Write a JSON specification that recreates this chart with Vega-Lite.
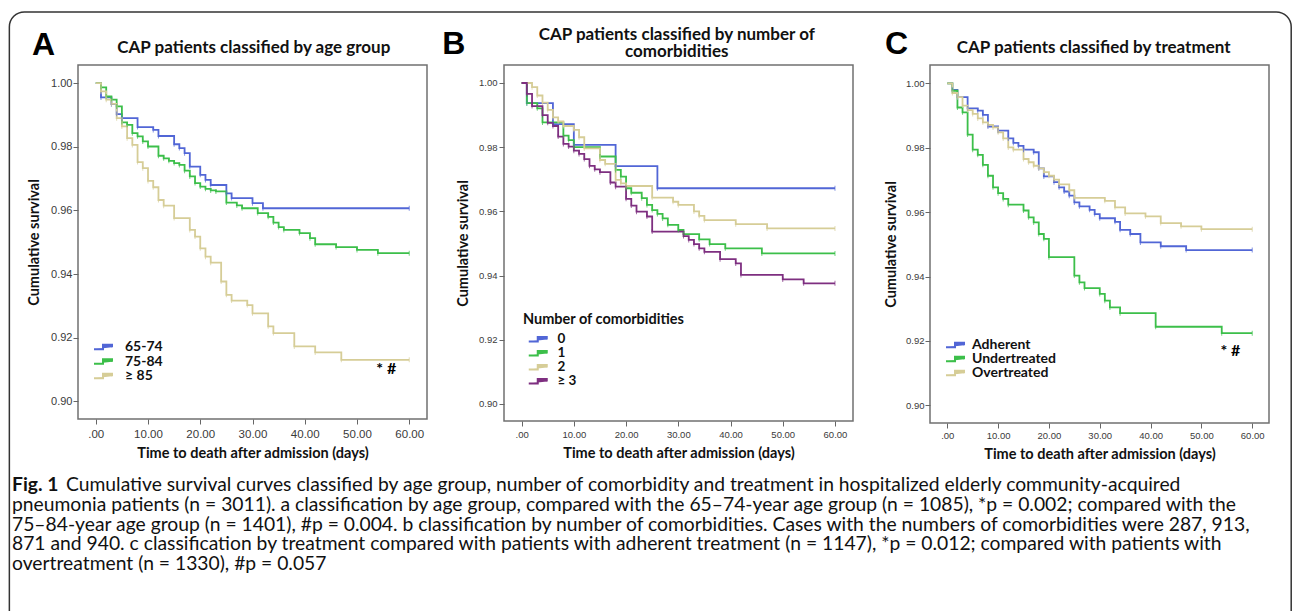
{
  "$schema": "https://vega.github.io/schema/vega-lite/v6.json",
  "padding": {"left": 8, "top": 11, "right": 0, "bottom": 0},
  "background": "white",
  "config": {
    "view": {"stroke": "#707070", "strokeWidth": 1.5},
    "axis": {"domain": false, "grid": false, "labelFont": "Liberation Sans", "labelColor": "#3a3a3a", "tickColor": "#666", "tickSize": 5, "titleFont": "Lato", "titleFontWeight": "bold", "titleColor": "#111", "titleFontSize": 14.5},
    "legend": {"labelFont": "Lato", "labelFontWeight": "bold", "labelFontSize": 14, "labelColor": "#111", "titleFont": "Lato", "titleFontWeight": "bold", "titleFontSize": 14.5, "titleColor": "#111", "padding": 0, "symbolType": "M-1,0.43H0.8V-0.43H2.6V0.03", "symbolSize": 100, "symbolStrokeWidth": 2, "symbolFillColor": "transparent"}
  },
  "vconcat": [
    {
      "hconcat": [
        {
          "width": 349, "height": 354,
          "data": {"values": [
            {"g":"65-74","t":0,"s":1.0},{"g":"65-74","t":1,"s":0.9955},{"g":"65-74","t":3,"s":0.9934},{"g":"65-74","t":4,"s":0.9903},{"g":"65-74","t":5,"s":0.989},{"g":"65-74","t":8,"s":0.9862},{"g":"65-74","t":11,"s":0.9853},{"g":"65-74","t":12,"s":0.9834},{"g":"65-74","t":15,"s":0.9808},{"g":"65-74","t":16,"s":0.9796},{"g":"65-74","t":17,"s":0.978},{"g":"65-74","t":18,"s":0.9738},{"g":"65-74","t":20,"s":0.9712},{"g":"65-74","t":21,"s":0.9696},{"g":"65-74","t":22,"s":0.968},{"g":"65-74","t":25,"s":0.9654},{"g":"65-74","t":26,"s":0.9639},{"g":"65-74","t":30,"s":0.9623},{"g":"65-74","t":32,"s":0.9607},{"g":"65-74","t":60,"s":0.9607},
            {"g":"75-84","t":0,"s":1.0},{"g":"75-84","t":1,"s":0.9987},{"g":"75-84","t":2,"s":0.9958},{"g":"75-84","t":3,"s":0.9948},{"g":"75-84","t":4,"s":0.9927},{"g":"75-84","t":5,"s":0.9877},{"g":"75-84","t":6,"s":0.9869},{"g":"75-84","t":7,"s":0.9843},{"g":"75-84","t":8,"s":0.9833},{"g":"75-84","t":9,"s":0.9817},{"g":"75-84","t":10,"s":0.9801},{"g":"75-84","t":12,"s":0.9772},{"g":"75-84","t":13,"s":0.9764},{"g":"75-84","t":14,"s":0.9756},{"g":"75-84","t":15,"s":0.9749},{"g":"75-84","t":16,"s":0.9743},{"g":"75-84","t":17,"s":0.9725},{"g":"75-84","t":18,"s":0.9707},{"g":"75-84","t":19,"s":0.9686},{"g":"75-84","t":20,"s":0.9675},{"g":"75-84","t":21,"s":0.9668},{"g":"75-84","t":22,"s":0.9663},{"g":"75-84","t":23,"s":0.966},{"g":"75-84","t":25,"s":0.9625},{"g":"75-84","t":27,"s":0.9616},{"g":"75-84","t":28,"s":0.9607},{"g":"75-84","t":31,"s":0.9592},{"g":"75-84","t":33,"s":0.958},{"g":"75-84","t":34,"s":0.9562},{"g":"75-84","t":35,"s":0.9548},{"g":"75-84","t":36,"s":0.9539},{"g":"75-84","t":39,"s":0.9529},{"g":"75-84","t":41,"s":0.9513},{"g":"75-84","t":42,"s":0.9494},{"g":"75-84","t":46,"s":0.9485},{"g":"75-84","t":50,"s":0.9476},{"g":"75-84","t":54,"s":0.9466},{"g":"75-84","t":60,"s":0.9466},
            {"g":"≥ 85","t":0,"s":1.0},{"g":"≥ 85","t":1,"s":0.9974},{"g":"≥ 85","t":2,"s":0.9948},{"g":"≥ 85","t":3,"s":0.9935},{"g":"≥ 85","t":4,"s":0.989},{"g":"≥ 85","t":5,"s":0.9864},{"g":"≥ 85","t":6,"s":0.9827},{"g":"≥ 85","t":7,"s":0.9806},{"g":"≥ 85","t":8,"s":0.9752},{"g":"≥ 85","t":9,"s":0.9733},{"g":"≥ 85","t":10,"s":0.9693},{"g":"≥ 85","t":11,"s":0.9673},{"g":"≥ 85","t":12,"s":0.9633},{"g":"≥ 85","t":13,"s":0.9615},{"g":"≥ 85","t":15,"s":0.9576},{"g":"≥ 85","t":18,"s":0.9539},{"g":"≥ 85","t":19,"s":0.9518},{"g":"≥ 85","t":20,"s":0.9481},{"g":"≥ 85","t":21,"s":0.9455},{"g":"≥ 85","t":22,"s":0.9436},{"g":"≥ 85","t":24,"s":0.9377},{"g":"≥ 85","t":25,"s":0.9335},{"g":"≥ 85","t":26,"s":0.9317},{"g":"≥ 85","t":29,"s":0.9303},{"g":"≥ 85","t":30,"s":0.9277},{"g":"≥ 85","t":33,"s":0.9236},{"g":"≥ 85","t":34,"s":0.9215},{"g":"≥ 85","t":38,"s":0.9173},{"g":"≥ 85","t":42,"s":0.9154},{"g":"≥ 85","t":47,"s":0.9131},{"g":"≥ 85","t":60,"s":0.9131}
          ]},
          "layer": [
            {
              "mark": {"type": "line", "interpolate": "step-after", "strokeWidth": 1.8},
              "encoding": {
                "x": {"field": "t", "type": "quantitative", "scale": {"domain": [-3.4, 63.4], "nice": false, "zero": false},
                      "axis": {"title": "Time to death after admission (days)", "values": [0,10,20,30,40,50,60], "labelExpr": "datum.value == 0 ? '.00' : format(datum.value, '.2f')", "labelFontSize": 11.5, "labelPadding": 4, "titlePadding": 7}},
                "y": {"field": "s", "type": "quantitative", "scale": {"domain": [0.8945, 1.0057], "nice": false, "zero": false},
                      "axis": {"title": "Cumulative survival", "values": [0.9,0.92,0.94,0.96,0.98,1.0], "format": ".2f", "labelFontSize": 11, "labelPadding": 1, "titlePadding": 9}},
                "color": {"field": "g", "type": "nominal", "scale": {"domain": ["65-74","75-84","≥ 85"], "range": ["#5166d6","#3cbf4a","#d6cd97"]},
                          "legend": {"title": null, "orient": "none", "legendX": 14, "legendY": 275, "labelOffset": 19, "rowPadding": 0.5}}
              }
            },
            {
              "transform": [{"filter": "datum.t > 0"}],
              "mark": {"type": "tick", "orient": "vertical", "size": 5, "thickness": 1},
              "encoding": {
                "x": {"field": "t", "type": "quantitative"},
                "y": {"field": "s", "type": "quantitative"},
                "color": {"field": "g", "type": "nominal", "legend": null}
              }
            },
            {
              "data": {"values": [{}]},
              "mark": {"type": "text", "text": "A", "font": "Liberation Sans", "fontSize": 32, "fontWeight": "bold", "align": "left", "baseline": "alphabetic", "color": "#000"},
              "encoding": {"x": {"datum": -12.2}, "y": {"datum": 1.0088}}
            },
            {
              "data": {"values": [{}]},
              "mark": {"type": "text", "text": "CAP patients classified by age group", "font": "Lato", "fontSize": 17, "fontWeight": "bold", "align": "center", "baseline": "middle", "color": "#111"},
              "encoding": {"x": {"datum": 30.25}, "y": {"datum": 1.011}}
            },
            {
              "data": {"values": [{}]},
              "mark": {"type": "text", "text": "*  #", "font": "Lato", "fontSize": 16, "fontWeight": "bold", "align": "center", "baseline": "middle", "color": "#000"},
              "encoding": {"x": {"datum": 55.6}, "y": {"datum": 0.9102}}
            }
          ]
        },
        {
          "width": 349, "height": 356,
          "data": {"values": [
            {"g":"0","t":0,"s":1.0},{"g":"0","t":1,"s":0.9937},{"g":"0","t":6,"s":0.9872},{"g":"0","t":10,"s":0.9807},{"g":"0","t":18,"s":0.9741},{"g":"0","t":26,"s":0.9672},{"g":"0","t":60,"s":0.9672},
            {"g":"1","t":0,"s":1.0},{"g":"1","t":1,"s":0.9937},{"g":"1","t":3,"s":0.9921},{"g":"1","t":4,"s":0.9877},{"g":"1","t":8,"s":0.9836},{"g":"1","t":9,"s":0.9822},{"g":"1","t":10,"s":0.98},{"g":"1","t":15,"s":0.9771},{"g":"1","t":18,"s":0.9729},{"g":"1","t":19,"s":0.9708},{"g":"1","t":20,"s":0.9672},{"g":"1","t":21,"s":0.9658},{"g":"1","t":23,"s":0.9641},{"g":"1","t":24,"s":0.962},{"g":"1","t":25,"s":0.9604},{"g":"1","t":26,"s":0.9592},{"g":"1","t":27,"s":0.9578},{"g":"1","t":28,"s":0.9558},{"g":"1","t":30,"s":0.9542},{"g":"1","t":31,"s":0.9529},{"g":"1","t":34,"s":0.9513},{"g":"1","t":36,"s":0.9498},{"g":"1","t":39,"s":0.9485},{"g":"1","t":46,"s":0.9469},{"g":"1","t":60,"s":0.9469},
            {"g":"2","t":0,"s":1.0},{"g":"2","t":2,"s":0.9987},{"g":"2","t":3,"s":0.9961},{"g":"2","t":4,"s":0.9939},{"g":"2","t":5,"s":0.9916},{"g":"2","t":6,"s":0.9893},{"g":"2","t":7,"s":0.988},{"g":"2","t":8,"s":0.9866},{"g":"2","t":10,"s":0.9854},{"g":"2","t":11,"s":0.9831},{"g":"2","t":12,"s":0.9796},{"g":"2","t":15,"s":0.976},{"g":"2","t":16,"s":0.9748},{"g":"2","t":18,"s":0.9698},{"g":"2","t":19,"s":0.9687},{"g":"2","t":20,"s":0.9679},{"g":"2","t":25,"s":0.9643},{"g":"2","t":29,"s":0.963},{"g":"2","t":30,"s":0.962},{"g":"2","t":33,"s":0.96},{"g":"2","t":34,"s":0.9586},{"g":"2","t":35,"s":0.9573},{"g":"2","t":41,"s":0.956},{"g":"2","t":47,"s":0.9547},{"g":"2","t":60,"s":0.9547},
            {"g":"≥ 3","t":0,"s":1.0},{"g":"≥ 3","t":1,"s":0.9966},{"g":"≥ 3","t":2,"s":0.9928},{"g":"≥ 3","t":4,"s":0.99},{"g":"≥ 3","t":5,"s":0.9876},{"g":"≥ 3","t":6,"s":0.9866},{"g":"≥ 3","t":7,"s":0.9833},{"g":"≥ 3","t":8,"s":0.981},{"g":"≥ 3","t":9,"s":0.9802},{"g":"≥ 3","t":10,"s":0.9789},{"g":"≥ 3","t":11,"s":0.9779},{"g":"≥ 3","t":12,"s":0.9763},{"g":"≥ 3","t":13,"s":0.9742},{"g":"≥ 3","t":14,"s":0.9731},{"g":"≥ 3","t":15,"s":0.9722},{"g":"≥ 3","t":17,"s":0.969},{"g":"≥ 3","t":18,"s":0.9677},{"g":"≥ 3","t":20,"s":0.9639},{"g":"≥ 3","t":21,"s":0.9618},{"g":"≥ 3","t":22,"s":0.9599},{"g":"≥ 3","t":24,"s":0.9584},{"g":"≥ 3","t":25,"s":0.9537},{"g":"≥ 3","t":31,"s":0.9523},{"g":"≥ 3","t":32,"s":0.9511},{"g":"≥ 3","t":33,"s":0.9498},{"g":"≥ 3","t":34,"s":0.9485},{"g":"≥ 3","t":35,"s":0.9474},{"g":"≥ 3","t":38,"s":0.9451},{"g":"≥ 3","t":41,"s":0.9438},{"g":"≥ 3","t":42,"s":0.9402},{"g":"≥ 3","t":50,"s":0.9388},{"g":"≥ 3","t":54,"s":0.9376},{"g":"≥ 3","t":60,"s":0.9376}
          ]},
          "layer": [
            {
              "mark": {"type": "line", "interpolate": "step-after", "strokeWidth": 1.8},
              "encoding": {
                "x": {"field": "t", "type": "quantitative", "scale": {"domain": [-3.37, 63.45], "nice": false, "zero": false},
                      "axis": {"title": "Time to death after admission (days)", "values": [0,10,20,30,40,50,60], "labelExpr": "datum.value == 0 ? '.00' : format(datum.value, '.2f')", "labelFontSize": 9.5, "labelPadding": 3, "titlePadding": 8}},
                "y": {"field": "s", "type": "quantitative", "scale": {"domain": [0.8947, 1.0056], "nice": false, "zero": false},
                      "axis": {"title": "Cumulative survival", "values": [0.9,0.92,0.94,0.96,0.98,1.0], "format": ".2f", "labelFontSize": 9.5, "labelPadding": 2, "titlePadding": 8}},
                "color": {"field": "g", "type": "nominal", "scale": {"domain": ["0","1","2","≥ 3"], "range": ["#5166d6","#3cbf4a","#d6cd97","#7e2f80"]},
                          "legend": {"title": "Number of comorbidities", "orient": "none", "legendX": 19, "legendY": 248, "symbolOffset": 4, "labelOffset": 17, "labelFontSize": 13.5, "rowPadding": -2, "titlePadding": 5}}
              }
            },
            {
              "transform": [{"filter": "datum.t > 0"}],
              "mark": {"type": "tick", "orient": "vertical", "size": 5, "thickness": 1},
              "encoding": {
                "x": {"field": "t", "type": "quantitative"},
                "y": {"field": "s", "type": "quantitative"},
                "color": {"field": "g", "type": "nominal", "legend": null}
              }
            },
            {
              "data": {"values": [{}]},
              "mark": {"type": "text", "text": "B", "font": "Liberation Sans", "fontSize": 32, "fontWeight": "bold", "align": "left", "baseline": "alphabetic", "color": "#000"},
              "encoding": {"x": {"datum": -15.2}, "y": {"datum": 1.009}}
            },
            {
              "data": {"values": [{}]},
              "mark": {"type": "text", "text": "CAP patients classified by number of", "font": "Lato", "fontSize": 17, "fontWeight": "bold", "align": "center", "baseline": "middle", "color": "#111"},
              "encoding": {"x": {"datum": 29.7}, "y": {"datum": 1.0149}}
            },
            {
              "data": {"values": [{}]},
              "mark": {"type": "text", "text": "comorbidities", "font": "Lato", "fontSize": 17, "fontWeight": "bold", "align": "center", "baseline": "middle", "color": "#111"},
              "encoding": {"x": {"datum": 29.7}, "y": {"datum": 1.0096}}
            }
          ]
        },
        {
          "width": 339, "height": 358,
          "data": {"values": [
            {"g":"Adherent","t":0,"s":1.0},{"g":"Adherent","t":1,"s":0.998},{"g":"Adherent","t":2,"s":0.9957},{"g":"Adherent","t":4,"s":0.9922},{"g":"Adherent","t":6,"s":0.9915},{"g":"Adherent","t":7,"s":0.9902},{"g":"Adherent","t":8,"s":0.9866},{"g":"Adherent","t":10,"s":0.9853},{"g":"Adherent","t":12,"s":0.9829},{"g":"Adherent","t":13,"s":0.9815},{"g":"Adherent","t":14,"s":0.9806},{"g":"Adherent","t":15,"s":0.9794},{"g":"Adherent","t":17,"s":0.9786},{"g":"Adherent","t":18,"s":0.9736},{"g":"Adherent","t":19,"s":0.9711},{"g":"Adherent","t":21,"s":0.9693},{"g":"Adherent","t":22,"s":0.9677},{"g":"Adherent","t":23,"s":0.9664},{"g":"Adherent","t":24,"s":0.9651},{"g":"Adherent","t":25,"s":0.963},{"g":"Adherent","t":26,"s":0.9618},{"g":"Adherent","t":28,"s":0.9607},{"g":"Adherent","t":29,"s":0.9594},{"g":"Adherent","t":30,"s":0.9581},{"g":"Adherent","t":33,"s":0.957},{"g":"Adherent","t":34,"s":0.9545},{"g":"Adherent","t":36,"s":0.9532},{"g":"Adherent","t":38,"s":0.9506},{"g":"Adherent","t":42,"s":0.9494},{"g":"Adherent","t":47,"s":0.9482},{"g":"Adherent","t":60,"s":0.9482},
            {"g":"Undertreated","t":0,"s":1.0},{"g":"Undertreated","t":1,"s":0.9977},{"g":"Undertreated","t":2,"s":0.9925},{"g":"Undertreated","t":3,"s":0.991},{"g":"Undertreated","t":4,"s":0.9841},{"g":"Undertreated","t":5,"s":0.9794},{"g":"Undertreated","t":6,"s":0.9778},{"g":"Undertreated","t":7,"s":0.9747},{"g":"Undertreated","t":8,"s":0.9713},{"g":"Undertreated","t":9,"s":0.9677},{"g":"Undertreated","t":10,"s":0.9659},{"g":"Undertreated","t":11,"s":0.9641},{"g":"Undertreated","t":12,"s":0.9623},{"g":"Undertreated","t":15,"s":0.9605},{"g":"Undertreated","t":16,"s":0.9584},{"g":"Undertreated","t":17,"s":0.9568},{"g":"Undertreated","t":18,"s":0.9532},{"g":"Undertreated","t":19,"s":0.9517},{"g":"Undertreated","t":20,"s":0.946},{"g":"Undertreated","t":25,"s":0.9403},{"g":"Undertreated","t":26,"s":0.9382},{"g":"Undertreated","t":27,"s":0.9364},{"g":"Undertreated","t":30,"s":0.9346},{"g":"Undertreated","t":31,"s":0.9325},{"g":"Undertreated","t":32,"s":0.9304},{"g":"Undertreated","t":34,"s":0.9286},{"g":"Undertreated","t":41,"s":0.9244},{"g":"Undertreated","t":54,"s":0.9224},{"g":"Undertreated","t":60,"s":0.9224},
            {"g":"Overtreated","t":0,"s":1.0},{"g":"Overtreated","t":1,"s":0.997},{"g":"Overtreated","t":2,"s":0.9957},{"g":"Overtreated","t":3,"s":0.9931},{"g":"Overtreated","t":4,"s":0.9917},{"g":"Overtreated","t":5,"s":0.9905},{"g":"Overtreated","t":6,"s":0.9891},{"g":"Overtreated","t":7,"s":0.9879},{"g":"Overtreated","t":8,"s":0.9871},{"g":"Overtreated","t":9,"s":0.9863},{"g":"Overtreated","t":10,"s":0.9848},{"g":"Overtreated","t":11,"s":0.9829},{"g":"Overtreated","t":12,"s":0.9801},{"g":"Overtreated","t":13,"s":0.9794},{"g":"Overtreated","t":15,"s":0.9765},{"g":"Overtreated","t":16,"s":0.9755},{"g":"Overtreated","t":17,"s":0.9744},{"g":"Overtreated","t":18,"s":0.9736},{"g":"Overtreated","t":19,"s":0.9724},{"g":"Overtreated","t":20,"s":0.9713},{"g":"Overtreated","t":21,"s":0.9701},{"g":"Overtreated","t":22,"s":0.9686},{"g":"Overtreated","t":24,"s":0.9668},{"g":"Overtreated","t":25,"s":0.9644},{"g":"Overtreated","t":31,"s":0.9635},{"g":"Overtreated","t":33,"s":0.9615},{"g":"Overtreated","t":35,"s":0.9596},{"g":"Overtreated","t":39,"s":0.9587},{"g":"Overtreated","t":42,"s":0.9566},{"g":"Overtreated","t":46,"s":0.9556},{"g":"Overtreated","t":50,"s":0.9547},{"g":"Overtreated","t":60,"s":0.9547}
          ]},
          "layer": [
            {
              "mark": {"type": "line", "interpolate": "step-after", "strokeWidth": 1.8},
              "encoding": {
                "x": {"field": "t", "type": "quantitative", "scale": {"domain": [-3.4, 63.3], "nice": false, "zero": false},
                      "axis": {"title": "Time to death after admission (days)", "values": [0,10,20,30,40,50,60], "labelExpr": "datum.value == 0 ? '.00' : format(datum.value, '.2f')", "labelFontSize": 9.5, "labelPadding": 2, "titlePadding": 8}},
                "y": {"field": "s", "type": "quantitative", "scale": {"domain": [0.8945, 1.0057], "nice": false, "zero": false},
                      "axis": {"title": "Cumulative survival", "values": [0.9,0.92,0.94,0.96,0.98,1.0], "format": ".2f", "labelFontSize": 9.5, "labelPadding": 1, "titlePadding": 7}},
                "color": {"field": "g", "type": "nominal", "scale": {"domain": ["Adherent","Undertreated","Overtreated"], "range": ["#5166d6","#3cbf4a","#d6cd97"]},
                          "legend": {"title": null, "orient": "none", "legendX": 14, "legendY": 273, "labelOffset": 14, "rowPadding": 0}}
              }
            },
            {
              "transform": [{"filter": "datum.t > 0"}],
              "mark": {"type": "tick", "orient": "vertical", "size": 5, "thickness": 1},
              "encoding": {
                "x": {"field": "t", "type": "quantitative"},
                "y": {"field": "s", "type": "quantitative"},
                "color": {"field": "g", "type": "nominal", "legend": null}
              }
            },
            {
              "data": {"values": [{}]},
              "mark": {"type": "text", "text": "C", "font": "Liberation Sans", "fontSize": 32, "fontWeight": "bold", "align": "left", "baseline": "alphabetic", "color": "#000"},
              "encoding": {"x": {"datum": -12.25}, "y": {"datum": 1.0091}}
            },
            {
              "data": {"values": [{}]},
              "mark": {"type": "text", "text": "CAP patients classified by treatment", "font": "Lato", "fontSize": 17, "fontWeight": "bold", "align": "center", "baseline": "middle", "color": "#111"},
              "encoding": {"x": {"datum": 28.8}, "y": {"datum": 1.011}}
            },
            {
              "data": {"values": [{}]},
              "mark": {"type": "text", "text": "*  #", "font": "Lato", "fontSize": 16, "fontWeight": "bold", "align": "center", "baseline": "middle", "color": "#000"},
              "encoding": {"x": {"datum": 55.7}, "y": {"datum": 0.9169}}
            }
          ]
        }
      ],
      "spacing": 77,
      "bounds": "flush",
      "resolve": {"scale": {"color": "independent"}, "legend": {"color": "independent"}}
    },
    {
      "width": 1200, "height": 99,
      "view": {"stroke": null},
      "layer": [
        {
          "data": {"values": [{}]},
          "mark": {"type": "rect", "filled": false, "stroke": "#333", "strokeWidth": 1.5, "cornerRadius": 15},
          "encoding": {
            "x": {"datum": -5.72, "type": "quantitative", "scale": {"domain": [0, 100], "nice": false, "zero": false}, "axis": null},
            "x2": {"datum": 101.1},
            "y": {"datum": -22.89, "type": "quantitative", "scale": {"domain": [0.5, 5.5], "nice": false, "zero": false, "reverse": true}, "axis": null},
            "y2": {"datum": 12}
          }
        },
        {
          "data": {"values": [
            {"line": 1, "seg": "head", "text": "Fig. 1"},
            {"line": 1, "seg": "rest", "text": "Cumulative survival curves classified by age group, number of comorbidity and treatment in hospitalized elderly community-acquired"},
            {"line": 2, "seg": "body", "text": "pneumonia patients (n = 3011). a classification by age group, compared with the 65–74-year age group (n = 1085), *p = 0.002; compared with the"},
            {"line": 3, "seg": "body", "text": "75–84-year age group (n = 1401), #p = 0.004. b classification by number of comorbidities. Cases with the numbers of comorbidities were 287, 913,"},
            {"line": 4, "seg": "body", "text": "871 and 940. c classification by treatment compared with patients with adherent treatment (n = 1147), *p = 0.012; compared with patients with"},
            {"line": 5, "seg": "body", "text": "overtreatment (n = 1330), #p = 0.057"}
          ]},
          "encoding": {
            "x": {"datum": -5.5, "type": "quantitative"},
            "y": {"field": "line", "type": "quantitative"},
            "text": {"field": "text"}
          },
          "layer": [
            {"transform": [{"filter": "datum.seg == 'head'"}], "mark": {"type": "text", "font": "Lato", "fontSize": 19.3, "fontWeight": "bold", "align": "left", "baseline": "middle", "color": "#111"}},
            {"transform": [{"filter": "datum.seg == 'rest'"}], "mark": {"type": "text", "font": "Lato", "fontSize": 19.3, "align": "left", "baseline": "middle", "color": "#111", "dx": 54}},
            {"transform": [{"filter": "datum.seg == 'body'"}], "mark": {"type": "text", "font": "Lato", "fontSize": 19.3, "align": "left", "baseline": "middle", "color": "#111"}}
          ]
        }
      ]
    }
  ],
  "spacing": 410,
  "bounds": "flush"
}
